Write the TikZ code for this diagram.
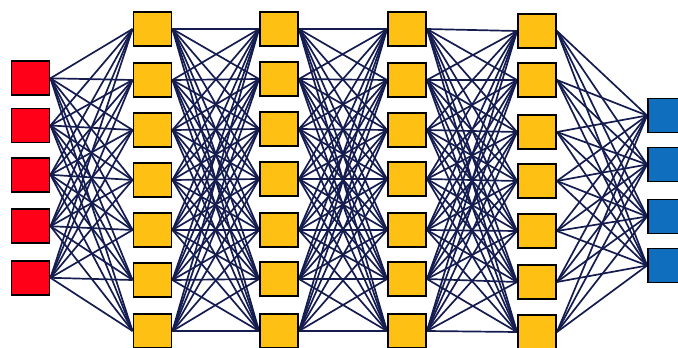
\documentclass[tikz,border=0pt]{standalone}
\usetikzlibrary{backgrounds}
\definecolor{inred}{RGB}{255,0,24}
\definecolor{hidyel}{RGB}{255,192,20}
\definecolor{outblue}{RGB}{16,110,190}
\definecolor{edgenavy}{RGB}{20,28,80}
\tikzset{
  unitbox/.style={draw=black, line width=1.9pt, minimum width=38pt, minimum height=34pt, inner sep=0pt},
  inbox/.style={unitbox, fill=inred},
  hidbox/.style={unitbox, fill=hidyel},
  outbox/.style={unitbox, fill=outblue},
  wire/.style={draw=edgenavy, line width=1.7pt}
}
\begin{document}
\begin{tikzpicture}[x=1pt,y=-1pt]
\useasboundingbox (0,0) rectangle (678,348);
% input layer
\foreach \i/\y in {1/78.3,2/125.5,3/174.8,4/226.2,5/277.8}
  \node[inbox] (r\i) at (30.5,\y) {};
% hidden layers
\foreach \i/\y in {1/29,2/80,3/130,4/180,5/230,6/280,7/331}
  \node[hidbox] (a\i) at (152.5,\y) {};
\foreach \i/\y in {1/29,2/79,3/129,4/179,5/230,6/279,7/331}
  \node[hidbox] (b\i) at (279,\y) {};
\foreach \i/\y in {1/29,2/80,3/130,4/179,5/230,6/279,7/331}
  \node[hidbox] (c\i) at (407,\y) {};
\foreach \i/\y in {1/31,2/80,3/132,4/181,5/231,6/282,7/332}
  \node[hidbox] (d\i) at (537,\y) {};
% output layer
\foreach \i/\y in {1/115.5,2/164.5,3/216.5,4/265.5}
  \node[outbox] (o\i) at (667,\y) {};
\begin{pgfonlayer}{background}
  \foreach \i in {1,...,5}
    \foreach \j in {1,...,7}
      \draw[wire] (r\i.east) -- (a\j.west);
  \foreach \i in {1,...,7}
    \foreach \j in {1,...,7}
      \draw[wire] (a\i.east) -- (b\j.west);
  \foreach \i in {1,...,7}
    \foreach \j in {1,...,7}
      \draw[wire] (b\i.east) -- (c\j.west);
  \foreach \i in {1,...,7}
    \foreach \j in {1,...,7}
      \draw[wire] (c\i.east) -- (d\j.west);
  \foreach \i in {1,...,7}
    \foreach \j in {1,...,4}
      \draw[wire] (d\i.east) -- (o\j.west);
\end{pgfonlayer}
\end{tikzpicture}
\end{document}
